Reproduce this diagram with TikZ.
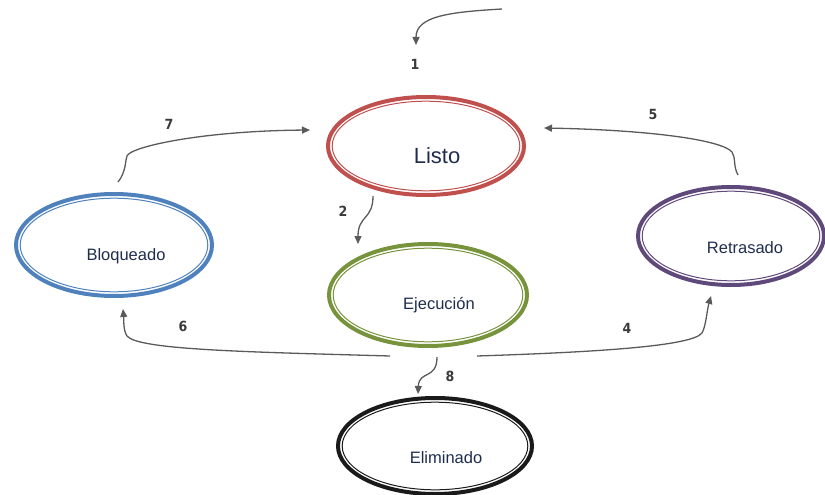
\documentclass[tikz,border=0pt]{standalone}
\usepackage{fontspec}
\setmainfont{Liberation Sans}
\newfontfamily\numfont{DejaVu Sans Condensed}
\usetikzlibrary{shapes.geometric,arrows.meta}
\definecolor{cred}{HTML}{C0504D}
\definecolor{cblue}{HTML}{4F81BD}
\definecolor{cgreen}{HTML}{77933C}
\definecolor{cpurple}{HTML}{5F497A}
\definecolor{cblack}{HTML}{1A1A1A}
\definecolor{ctext}{HTML}{1F2D4D}
\definecolor{carrow}{HTML}{5A5A5A}
\definecolor{cnum}{HTML}{3A3A3A}
\tikzset{
  state/.style={ellipse, line width=4pt, inner sep=0pt},
  inner/.style={line width=1pt},
  stext/.style={text=ctext, anchor=base, font=\fontsize{16.5}{18}\selectfont},
  conn/.style={draw=carrow, line width=1.3pt, -{Triangle[length=8pt,width=7pt]}},
  num/.style={text=cnum, font=\numfont\bfseries\fontsize{14}{16}\selectfont}
}
\begin{document}
\begin{tikzpicture}[x=1pt,y=-1pt]
\useasboundingbox (0,0) rectangle (825,495);
% states
\node[state, draw=cred, minimum width=196pt, minimum height=98pt] (listo) at (426,146) {};
\draw[inner, cred] (listo.center) ellipse [x radius=93.8, y radius=44.8];
\node[stext, font=\fontsize{22}{24}\selectfont] (listot) at (437,163) {Listo};

\node[state, draw=cblue, minimum width=196pt, minimum height=102pt] (bloq) at (114,245) {};
\draw[inner, cblue] (bloq.center) ellipse [x radius=93.8, y radius=46.8];
\node[stext] (bloqt) at (126,260) {Bloqueado};

\node[state, draw=cgreen, minimum width=198pt, minimum height=102pt] (ejec) at (428,295) {};
\draw[inner, cgreen] (ejec.center) ellipse [x radius=94.8, y radius=46.8];
\node[stext] (eject) at (439,309) {Ejecución};

\node[state, draw=cpurple, minimum width=186pt, minimum height=98pt] (retr) at (731,236) {};
\draw[inner, cpurple] (retr.center) ellipse [x radius=88.8, y radius=44.8];
\node[stext] (retrt) at (745,253) {Retrasado};

\node[state, draw=cblack, minimum width=194pt, minimum height=96pt] (elim) at (435,446) {};
\draw[inner, cblack] (elim.center) ellipse [x radius=92.8, y radius=43.8];
\node[stext] (elimt) at (446,463) {Eliminado};

% connector end points
\coordinate (s1) at (502,9);
\coordinate (e1) at (416,45);
\coordinate (s7) at (118,182);
\coordinate (e7) at (310,130);
\coordinate (s5) at (738,175);
\coordinate (e5) at (544,128);
\coordinate (s2) at (373,196);
\coordinate (e2) at (358,244);
\coordinate (s8) at (437,357);
\coordinate (e8) at (418,394);
\coordinate (s6) at (390,356);
\coordinate (e6) at (123,309);
\coordinate (s4) at (477,356);
\coordinate (e4) at (711,296);

% connectors
\draw[conn] (s1) .. controls (450,12) and (416,16) .. (e1);
\draw[conn] (s7) .. controls (126,172) and (125,162) .. (127,156) .. controls (130,147) and (200,131) .. (e7);
\draw[conn] (s5) .. controls (733,166) and (736,158) .. (732,152) .. controls (722,140) and (650,130) .. (e5);
\draw[conn] (s2) .. controls (373,220) and (358,215) .. (e2);
\draw[conn] (s8) .. controls (437,380) and (419,370) .. (e8);
\draw[conn] (s6) .. controls (250,352) and (138,350) .. (127,336) .. controls (123,330) and (124,320) .. (e6);
\draw[conn] (s4) .. controls (600,352) and (692,346) .. (702,333) .. controls (706,326) and (707,310) .. (e4);

% labels
\node[num] (n1) at (415,64) {1};
\node[num] (n7) at (169,124) {7};
\node[num] (n5) at (653,114) {5};
\node[num] (n2) at (343,211) {2};
\node[num] (n6) at (183,326) {6};
\node[num] (n4) at (627,328) {4};
\node[num] (n8) at (450,376) {8};
\end{tikzpicture}
\end{document}
